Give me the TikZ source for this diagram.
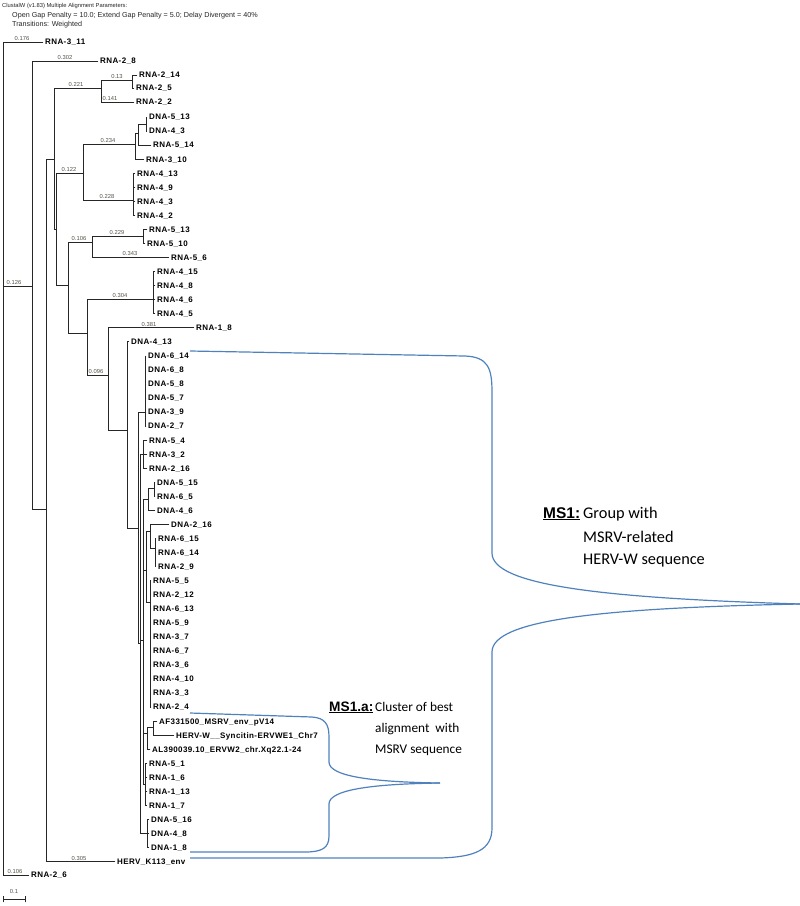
\documentclass[tikz,border=0pt]{standalone}
\usepackage{fontspec}
\setmainfont{Liberation Sans}
\newfontfamily\leaffont[LetterSpace=5]{Liberation Sans}
\newfontfamily\calib{Carlito}
\definecolor{braceblue}{RGB}{79,129,189}
\definecolor{blencol}{RGB}{85,80,70}
\tikzset{
  tree/.style={draw=black!85, line width=0.8pt, line cap=rect},
  leaf/.style={anchor=west, inner xsep=2pt, inner ysep=0pt, text height=5.7pt, text depth=0pt, font={\leaffont\bfseries\fontsize{8}{9}\selectfont}},
  blen/.style={anchor=south, inner sep=0pt, text height=4pt, text depth=0pt, font={\fontsize{5.8}{6}\selectfont}, text=blencol},
  hdr/.style={anchor=base west, inner sep=0pt, text=black!85},
  brace/.style={draw=braceblue, line width=1.2pt},
  mslab/.style={anchor=base west, inner sep=0pt, font={\bfseries\fontsize{15.5}{18}\selectfont}},
  mstxt/.style={anchor=base west, inner sep=0pt, font={\calib\fontsize{16.3}{19}\selectfont}},
  malab/.style={anchor=base west, inner sep=0pt, font={\bfseries\fontsize{13.7}{16}\selectfont}},
  matxt/.style={anchor=base west, inner sep=0pt, font={\calib\fontsize{13.3}{16}\selectfont}},
}
\newcommand\leafat[5]{\node[leaf] (#1) at (#3,#4) {#5}; \draw[tree] (#2,#4) -- (#1.west);}
\newcommand\blenat[4]{\node[blen] (#1) at (#2,#3) {#4};}
\begin{document}
\begin{tikzpicture}[x=1pt,y=-1pt]
\useasboundingbox (0,0) rectangle (800,906);
% header
\node[hdr, font={\fontsize{5.8}{7}\selectfont}] (h1) at (2,7.5) {ClustalW (v1.83) Multiple Alignment Parameters:};
\node[hdr, font={\fontsize{7.2}{8}\selectfont}] (h2) at (12,17) {Open Gap Penalty = 10.0; Extend Gap Penalty = 5.0; Delay Divergent = 40\%};
\node[hdr, font={\fontsize{7.2}{8}\selectfont}] (h3) at (12,26) {Transitions: Weighted};
% internal nodes
\draw[tree] (3,42) -- (3,875);
\draw[tree] (3,286) -- (32,286) (32,61) -- (32,509);
\draw[tree] (32,509) -- (46,509) (46,159) -- (46,861.7);
\draw[tree] (46,159) -- (54,159) (54,88) -- (54,229);
\draw[tree] (54,88) -- (101,88) (101,80) -- (101,102);
\draw[tree] (101,80) -- (132,80) (132,75) -- (132,88);
\draw[tree] (54,229) -- (56,229) (56,173) -- (56,285);
\draw[tree] (56,173) -- (83,173) (83,144) -- (83,200);
\draw[tree] (83,144) -- (135,144) (135,133) -- (135,159.2);
\draw[tree] (135,133) -- (138,133) (138,124) -- (138,145.1);
\draw[tree] (138,124) -- (146,124) (146,117) -- (146,131.1);
\draw[tree] (83,200) -- (133,200) (133,173.2) -- (133,215.4);
\draw[tree] (56,285) -- (68,285) (68,242) -- (68,333);
\draw[tree] (68,242) -- (92,242) (92,236) -- (92,257.5);
\draw[tree] (92,236) -- (143,236) (143,229.4) -- (143,243.5);
\draw[tree] (68,333) -- (87,333) (87,299) -- (87,375);
\draw[tree] (87,299) -- (153,299) (153,271.6) -- (153,313.7);
\draw[tree] (87,375) -- (108,375) (108,327.8) -- (108,430);
\draw[tree] (108,430) -- (127,430) (127,341.8) -- (127,528);
\draw[tree] (127,528) -- (138,528) (138,412) -- (138,643);
\draw[tree] (138,412) -- (145,412) (145,355.9) -- (145,426.1);
\draw[tree] (138,643) -- (140,643) (140,454) -- (140,833.6);
\draw[tree] (140,454) -- (143,454) (143,440.2) -- (143,468.3);
\draw[tree] (140,640) -- (143,640) (143,499) -- (143,784);
\draw[tree] (143,499) -- (148,499) (148,488) -- (148,510.4);
\draw[tree] (148,488) -- (154,488) (154,482.3) -- (154,496.4);
\draw[tree] (143,570) -- (146,570) (146,531) -- (146,602);
\draw[tree] (146,531) -- (150,531) (150,524.5) -- (150,548);
\draw[tree] (150,548) -- (155,548) (155,538.5) -- (155,566.6);
\draw[tree] (146,602) -- (150,602) (150,580.7) -- (150,707.1);
\draw[tree] (143,733) -- (147,733) (147,727) -- (147,749.3);
\draw[tree] (147,727) -- (153,727) (153,721.2) -- (153,735.2);
\draw[tree] (143,784) -- (145,784) (145,763.3) -- (145,805.5);
\draw[tree] (140,833.6) -- (147,833.6) (147,819.5) -- (147,847.6);
% leaves
\leafat{l0}{3}{43}{42}{RNA-3\_11}
\leafat{l1}{32}{98}{61}{RNA-2\_8}
\leafat{l2}{132}{137}{75}{RNA-2\_14}
\leafat{l3}{132}{134}{88}{RNA-2\_5}
\leafat{l4}{101}{134}{102}{RNA-2\_2}
\leafat{l5}{146}{147}{117}{DNA-5\_13}
\leafat{l6}{146}{147}{131.1}{DNA-4\_3}
\leafat{l7}{138}{151}{145.1}{RNA-5\_14}
\leafat{l8}{135}{144}{159.2}{RNA-3\_10}
\leafat{l9}{133}{135}{173.2}{RNA-4\_13}
\leafat{l10}{133}{135}{187.3}{RNA-4\_9}
\leafat{l11}{133}{135}{201.3}{RNA-4\_3}
\leafat{l12}{133}{135}{215.4}{RNA-4\_2}
\leafat{l13}{143}{147}{229.4}{RNA-5\_13}
\leafat{l14}{143}{145}{243.5}{RNA-5\_10}
\leafat{l15}{92}{169}{257.5}{RNA-5\_6}
\leafat{l16}{153}{155}{271.6}{RNA-4\_15}
\leafat{l17}{153}{155}{285.6}{RNA-4\_8}
\leafat{l18}{153}{155}{299.7}{RNA-4\_6}
\leafat{l19}{153}{155}{313.7}{RNA-4\_5}
\leafat{l20}{108}{194}{327.8}{RNA-1\_8}
\leafat{l21}{127}{129}{341.8}{DNA-4\_13}
\leafat{l22}{145}{146}{355.9}{DNA-6\_14}
\leafat{l23}{145}{146}{369.9}{DNA-6\_8}
\leafat{l24}{145}{146}{384}{DNA-5\_8}
\leafat{l25}{145}{146}{398}{DNA-5\_7}
\leafat{l26}{145}{146}{412.1}{DNA-3\_9}
\leafat{l27}{145}{146}{426.1}{DNA-2\_7}
\leafat{l28}{143}{147}{440.2}{RNA-5\_4}
\leafat{l29}{143}{147}{454.2}{RNA-3\_2}
\leafat{l30}{143}{147}{468.3}{RNA-2\_16}
\leafat{l31}{154}{155}{482.3}{DNA-5\_15}
\leafat{l32}{154}{155}{496.4}{RNA-6\_5}
\leafat{l33}{148}{155}{510.4}{DNA-4\_6}
\leafat{l34}{150}{169}{524.5}{DNA-2\_16}
\leafat{l35}{155}{156}{538.5}{RNA-6\_15}
\leafat{l36}{155}{156}{552.6}{RNA-6\_14}
\leafat{l37}{155}{156}{566.6}{RNA-2\_9}
\leafat{l38}{150}{151}{580.7}{RNA-5\_5}
\leafat{l39}{150}{151}{594.7}{RNA-2\_12}
\leafat{l40}{150}{151}{608.8}{RNA-6\_13}
\leafat{l41}{150}{151}{622.8}{RNA-5\_9}
\leafat{l42}{150}{151}{636.9}{RNA-3\_7}
\leafat{l43}{150}{151}{650.9}{RNA-6\_7}
\leafat{l44}{150}{151}{665}{RNA-3\_6}
\leafat{l45}{150}{151}{679}{RNA-4\_10}
\leafat{l46}{150}{151}{693.1}{RNA-3\_3}
\leafat{l47}{150}{151}{707.1}{RNA-2\_4}
\leafat{l48}{153}{157}{721.2}{AF331500\_MSRV\_env\_pV14}
\leafat{l49}{153}{174}{735.2}{HERV-W\_\_Syncitin-ERVWE1\_Chr7}
\leafat{l50}{147}{150}{749.3}{AL390039.10\_ERVW2\_chr.Xq22.1-24}
\leafat{l51}{145}{147}{763.3}{RNA-5\_1}
\leafat{l52}{145}{147}{777.4}{RNA-1\_6}
\leafat{l53}{145}{147}{791.4}{RNA-1\_13}
\leafat{l54}{145}{147}{805.5}{RNA-1\_7}
\leafat{l55}{147}{149}{819.5}{DNA-5\_16}
\leafat{l56}{147}{149}{833.6}{DNA-4\_8}
\leafat{l57}{147}{149}{847.6}{DNA-1\_8}
\leafat{l58}{46}{115}{861.7}{HERV\_K113\_env}
\leafat{l59}{3}{29}{875}{RNA-2\_6}
% branch lengths
\blenat{b1}{22}{40.5}{0.176}
\blenat{b2}{65}{59.5}{0.302}
\blenat{b3}{117}{78.5}{0.13}
\blenat{b4}{110}{100.5}{0.141}
\blenat{b5}{76}{86.5}{0.221}
\blenat{b6}{108}{142.5}{0.234}
\blenat{b7}{69}{171.5}{0.122}
\blenat{b8}{107}{198.5}{0.228}
\blenat{b9}{117}{234.5}{0.229}
\blenat{b10}{79}{240.5}{0.106}
\blenat{b11}{130}{256}{0.343}
\blenat{b12}{14}{284.5}{0.126}
\blenat{b13}{120}{297.5}{0.304}
\blenat{b14}{149}{326.3}{0.381}
\blenat{b15}{96}{373.5}{0.096}
\blenat{b16}{79}{860.2}{0.305}
\blenat{b17}{15}{873.5}{0.106}
% scale bar
\draw[tree] (3,899) -- (25,899) (3,896) -- (3,902) (25,896) -- (25,902);
\blenat{sc}{14}{894}{0.1}
% braces
\coordinate (ms1top) at (190,351);
\coordinate (ms1tip) at (800,604);
\coordinate (ms1bot) at (190,858);
\coordinate (matop) at (190,713);
\coordinate (matip) at (440,783);
\coordinate (mabot) at (190,852);
\draw[brace] (ms1top) -- (465,356) .. controls (488,357) and (492,368) .. (492,392) -- (492,553) .. controls (492,585) and (600,598) .. (ms1tip);
\draw[brace] (ms1tip) .. controls (600,608) and (492,620) .. (492,652) -- (492,828) .. controls (492,850) and (475,857) .. (440,858) -- (ms1bot);
\draw[brace] (matop) -- (312,717) .. controls (325,718) and (329,724) .. (329,737) -- (329,762) .. controls (329,776) and (370,782) .. (matip);
\draw[brace] (matip) .. controls (370,784) and (329,790) .. (329,804) -- (329,836) .. controls (329,848) and (322,852) .. (305,852) -- (mabot);
% annotation texts
\node[mslab] (t1) at (543,518) {\underline{MS1:}};
\node[mstxt] (t2) at (583,518) {Group with};
\node[mstxt] (t3) at (583,542) {MSRV-related};
\node[mstxt] (t4) at (583,564) {HERV-W sequence};
\node[malab] (t5) at (329,711) {\underline{MS1.a:}};
\node[matxt] (t6) at (375,711) {Cluster of best};
\node[matxt] (t7) at (375,732) {alignment\ \ with};
\node[matxt] (t8) at (375,753) {MSRV sequence};
\end{tikzpicture}
\end{document}
